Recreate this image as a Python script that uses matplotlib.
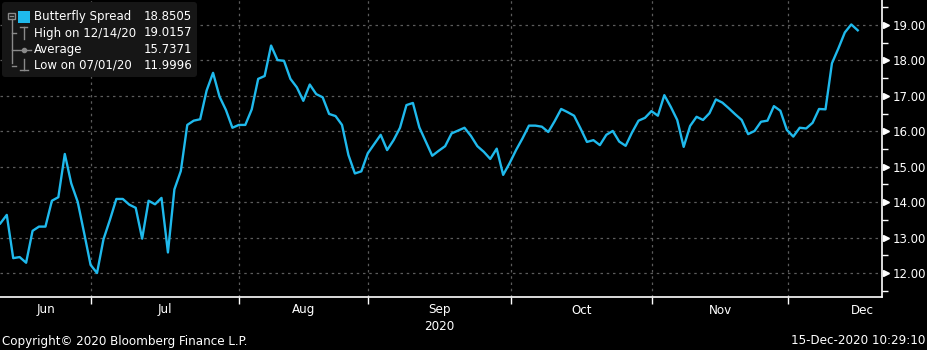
import matplotlib
matplotlib.use("Agg")
import matplotlib.pyplot as plt
from matplotlib.patches import FancyBboxPatch, Rectangle
from matplotlib.transforms import Affine2D, blended_transform_factory
from matplotlib.ticker import MultipleLocator, FixedLocator

# Butterfly spread, daily closes 10-Jun-2020 .. 15-Dec-2020
spread = [
    13.40, 13.64, 12.42, 12.45, 12.29, 13.19, 13.31, 13.31, 14.04, 14.14,
    15.36, 14.53, 14.01, 13.13, 12.23, 11.9996, 12.95, 13.50, 14.09, 14.09,
    13.93, 13.84, 12.97, 14.04, 13.94, 14.12, 12.58, 14.36, 14.88, 16.18,
    16.30, 16.34, 17.15, 17.65, 16.98, 16.60, 16.10, 16.18, 16.18, 16.62,
    17.48, 17.56, 18.42, 18.01, 17.99, 17.48, 17.24, 16.86, 17.32, 17.05,
    16.96, 16.49, 16.43, 16.18, 15.33, 14.81, 14.87, 15.38, 15.64, 15.90,
    15.47, 15.75, 16.10, 16.74, 16.80, 16.11, 15.71, 15.31, 15.45, 15.58,
    15.94, 16.02, 16.10, 15.87, 15.58, 15.42, 15.22, 15.51, 14.77, 15.10,
    15.47, 15.80, 16.16, 16.16, 16.13, 15.98, 16.29, 16.63, 16.54, 16.44,
    16.08, 15.70, 15.75, 15.61, 15.90, 16.01, 15.71, 15.59, 15.97, 16.30,
    16.38, 16.57, 16.44, 17.02, 16.69, 16.32, 15.56, 16.15, 16.41, 16.32,
    16.51, 16.90, 16.81, 16.65, 16.48, 16.32, 15.92, 16.01, 16.27, 16.30,
    16.71, 16.58, 16.04, 15.85, 16.10, 16.08, 16.24, 16.63, 16.62, 17.92,
    18.34, 18.79, 19.0157, 18.8505,
]
months = ["Jun", "Jul", "Aug", "Sep", "Oct", "Nov", "Dec"]
# month boundaries on the trading-day index, last one is end of Dec
month_edges = [14.1, 37.06, 57.06, 79.2, 101.1, 122.2, 145.2]

legend_names = ["Butterfly Spread", "High on 12/14/20", "Average", "Low on 07/01/20"]
legend_values = ["18.8505", "19.0157", "15.7371", "11.9996"]

LINE = "#1fb9ec"
GRID = "#5c5c5c"
W, H = 927, 350

fig = plt.figure(figsize=(W / 100, H / 100), dpi=100, facecolor="black")
ax = fig.add_axes([0, 1 - 297 / H, 882 / W, 297 / H], facecolor="black")

x = list(range(len(spread)))
ax.plot(x, spread, color=LINE, lw=1.7, zorder=3)

ax.set_xlim(-0.05, 882 / 6.449)
ax.set_ylim(11.323, 19.706)

# y axis on the right
ax.yaxis.tick_right()
ax.yaxis.set_major_locator(MultipleLocator(1))
ax.yaxis.set_minor_locator(MultipleLocator(0.5))
ax.yaxis.set_major_formatter(lambda v, p: f"{v:.2f}")
ax.tick_params(axis="y", which="major", length=0, pad=8, labelsize=8.5,
               labelcolor="white")
ax.tick_params(axis="y", which="minor", length=4, width=1, color="white")
ytr = blended_transform_factory(ax.transAxes, ax.transData)
for v in range(12, 20):
    ax.plot([1.0045], [v], marker=">", ms=5, color="white", mec="white",
            transform=ytr, clip_on=False)

# month boundaries as x ticks
ax.xaxis.set_major_locator(FixedLocator(month_edges[:-1]))
ax.tick_params(axis="x", which="major", length=5, width=1, color="white",
               labelbottom=False)

ax.grid(True, which="major", color=GRID, ls=(0, (2, 3)), lw=0.9)
for s in ["top", "left"]:
    ax.spines[s].set_visible(False)
for s in ["bottom", "right"]:
    ax.spines[s].set_color("white")
    ax.spines[s].set_linewidth(1.2)

narrow = dict(family="DejaVu Sans", stretch="condensed", fontsize=9.5)
xtr = blended_transform_factory(ax.transData, fig.transFigure)
lo = ax.get_xlim()[0]
starts = [lo] + month_edges[:-1]
for name, a, b in zip(months, starts, month_edges):
    ax.text((max(a, lo) + b) / 2, 1 - 310 / H, name, transform=xtr,
            ha="center", va="center", color="white", **narrow)
ax.text((month_edges[2] + month_edges[3]) / 2, 1 - 326 / H, "2020",
        transform=xtr, ha="center", va="center", color="white", **narrow)

# pixel coordinates (y downwards) for the legend and footer
px = Affine2D().scale(1 / W, -1 / H).translate(0, 1) + fig.transFigure

fig.text(2, 341, "Copyright\u00a9 2020 Bloomberg Finance L.P.", transform=px,
         ha="left", va="center", color="white", **narrow)
fig.text(925, 341, "15-Dec-2020 10:29:10", transform=px, ha="right",
         va="center", color="white", **narrow)

box = FancyBboxPatch((2, 2), 195, 75, boxstyle="round,pad=0,rounding_size=3",
                     transform=px, facecolor="#161616", edgecolor="none",
                     zorder=5)
fig.add_artist(box)

TREE = "#8a8a8a"
rows = [16.5, 33, 49.5, 65.5]


def seg(xs, ys, **kw):
    fig.add_artist(plt.Line2D(xs, ys, transform=px, color=TREE, lw=1,
                              zorder=6, **kw))


# collapse box and tree lines
fig.add_artist(Rectangle((8.5, 12.5), 6.5, 6.5, transform=px, fill=False,
                         edgecolor=TREE, lw=1, zorder=6))
seg([10.5, 13], [15.75, 15.75])
seg([11.75, 11.75], [19, 63])
for r in rows[1:]:
    seg([11.75, 16], [r, r])

fig.add_artist(Rectangle((18, 10.5), 12, 12, transform=px, facecolor=LINE,
                         edgecolor="none", zorder=6))
# high marker
seg([24, 24], [27, 39])
seg([20.5, 27.5], [27, 27])
# average marker
seg([17, 31], [49.5, 49.5])
fig.add_artist(plt.Line2D([24], [49.5], transform=px, marker="o", ms=3,
                          color=TREE, zorder=7))
# low marker
seg([24, 24], [59, 70])
seg([20, 28], [70, 70])

for r, name, val in zip(rows, legend_names, legend_values):
    fig.text(34, r, name, transform=px, ha="left", va="center",
             color="white", fontsize=8.5, zorder=7)
    fig.text(192, r, val, transform=px, ha="right", va="center",
             color="white", fontsize=8.5, zorder=7)

fig.savefig("out.png", dpi=100, facecolor="black")
